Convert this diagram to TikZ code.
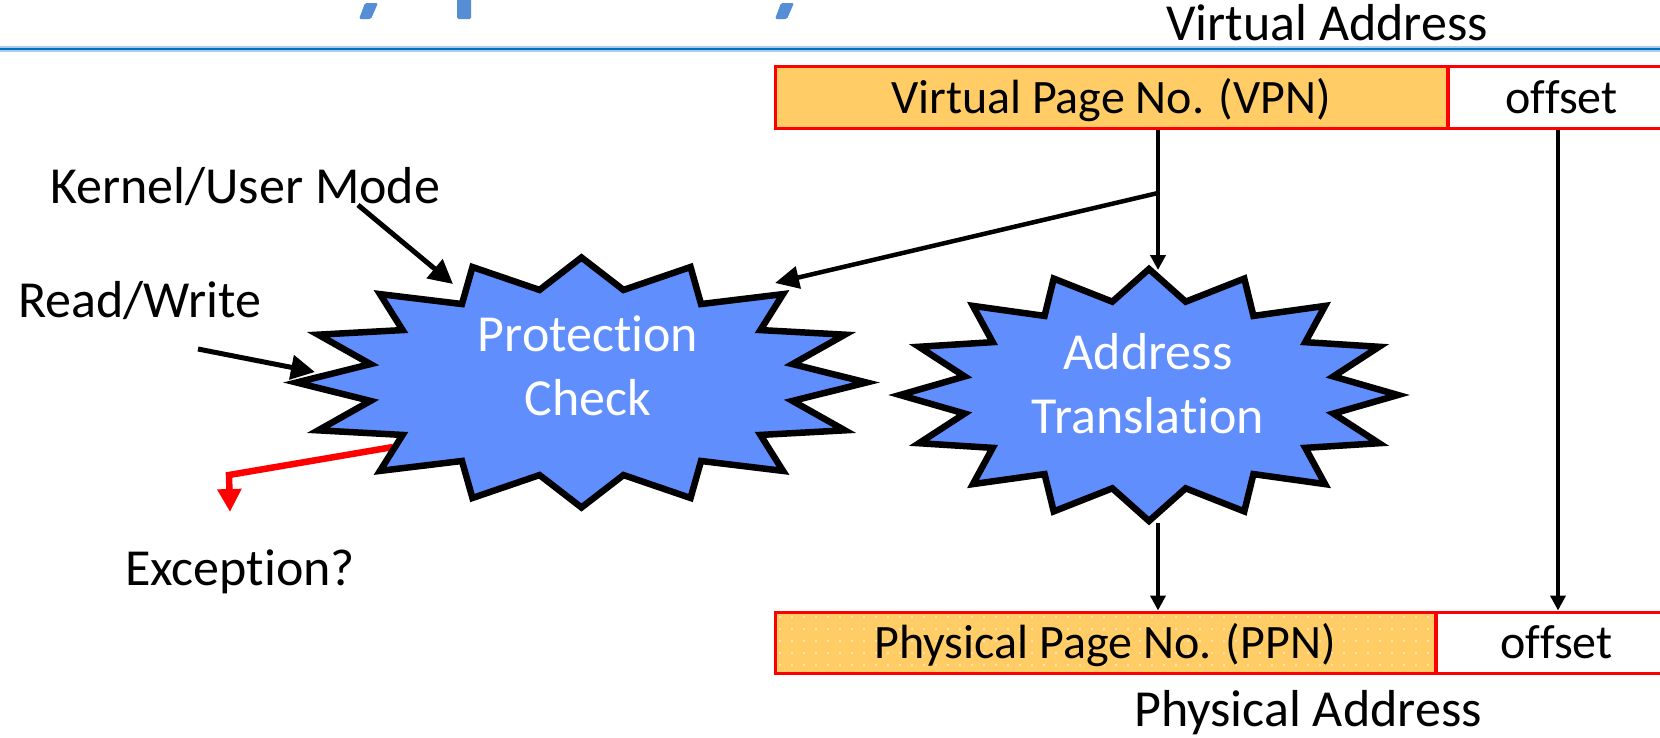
\documentclass[tikz,border=0pt]{standalone}
\usepackage{fontspec}
\setmainfont{Carlito}[Ligatures={NoCommon}]
\usetikzlibrary{arrows.meta,patterns.meta}
\definecolor{starblue}{RGB}{96,142,252}
\definecolor{boxorange}{RGB}{255,204,102}
\definecolor{titleblue}{RGB}{0,112,192}
\definecolor{titlelight}{RGB}{170,205,235}
\definecolor{fragblue}{RGB}{85,142,213}
\definecolor{dotcol}{RGB}{255,236,195}
\begin{document}
\begin{tikzpicture}[x=1pt,y=-1pt,
  lbl/.style={font=\fontsize{52}{64}\selectfont, inner sep=0pt},
  boxlbl/.style={font=\fontsize{48}{58}\selectfont, inner sep=0pt, text height=36pt, text depth=4pt},
  field/.style={boxlbl, draw=red, line width=3pt, minimum height=62pt},
  burst/.style={fill=starblue, draw=black, line width=6.5pt, line join=miter},
  starlbl/.style={lbl, text=white, align=center},
  arr/.style={draw=black, line width=5pt, -{Triangle[length=24pt,width=24pt]}},
  brarr/.style={draw=black, line width=4.5pt, -{Triangle[length=24pt,width=22pt]}},
  varr/.style={draw=black, line width=4pt, -{Triangle[length=15pt,width=15pt]}},
  exarr/.style={draw=red, line width=6.5pt, line join=miter, -{Triangle[length=23pt,width=23pt]}},
]
\useasboundingbox (0,0) rectangle (1660,737);
\clip (0,0) rectangle (1660,737);
\fill[white] (0,0) rectangle (1660,737);

% title rule and cut-off title fragments
\draw[titlelight, line width=6pt] (0,49) -- (1660,49);
\draw[titleblue, line width=2.5pt] (0,49) -- (1660,49);
\fill[fragblue, rounded corners=1.5pt] (365,3) -- (378,3) -- (371,19) -- (359,19) -- cycle;
\fill[fragblue, rounded corners=1.5pt] (457,-2) -- (471,-2) -- (471,19) -- (457,19) -- cycle;
\fill[fragblue, rounded corners=1.5pt] (781,3) -- (794,3) -- (787,19) -- (775,19) -- cycle;

% labels
\node[lbl, anchor=base] (va) at (1327,40) {Virtual Address};
\node[lbl, anchor=base west] (kum) at (50,203) {Kernel/User Mode};
\node[lbl, anchor=base west] (rw) at (18,317) {Read/Write};
\node[lbl, anchor=base west] (exc) at (125,585) {Exception?};
\node[lbl, anchor=base] (pa) at (1308,726) {Physical Address};

% address fields
\node[field, fill=boxorange, minimum width=672pt] (vpn) at (1111,97) {Virtual Page No. (VPN)};
\node[field, fill=white, minimum width=226pt, anchor=west] (voff) at (1447,97) {offset};
\node[field, fill=boxorange, minimum width=660pt, minimum height=61pt,
      postaction={pattern={Dots[distance=12pt,radius=1.1pt]}, pattern color=dotcol}] (ppn) at (1105,642.5) {Physical Page No. (PPN)};
\node[field, fill=white, minimum width=240pt, minimum height=61pt, anchor=west] (poff) at (1435,642.5) {offset};

% connector coordinates
\coordinate (j) at (1158,193);
\coordinate (attop) at (1158,270);
\coordinate (atbot) at (1158,523);
\coordinate (offx) at (1558,300);
\coordinate (pcin) at (775,283);
\coordinate (kmtail) at (358,205);
\coordinate (pckm) at (453,284);
\coordinate (rwtail) at (198,349);
\coordinate (pcrw) at (315,372);
\coordinate (pcex) at (393,447);
\coordinate (exbend) at (229,475);
\coordinate (extip) at (230,512);

% connectors
\draw[varr] (vpn.south -| j) -- (attop);
\draw[brarr] (j) -- (pcin);
\draw[varr] (voff.south -| offx) -- (poff.north -| offx);
\draw[varr] (atbot) -- (ppn.north -| atbot);
\draw[arr] (kmtail) -- (pckm);
\draw[arr] (rwtail) -- (pcrw);
\draw[exarr] (pcex) -- (exbend) -- (extip);

% bursts
\draw[burst] plot[samples=33, domain=0:32, variable=\k]
  ({581.5+285*(1-0.245*mod(round(\k),2))*cos(90+11.25*\k)},
   {382.5-125*(1-0.245*mod(round(\k),2))*sin(90+11.25*\k)}) -- cycle;
\draw[burst] plot[samples=33, domain=0:32, variable=\k]
  ({1149+249*(1-0.245*mod(round(\k),2))*cos(90+11.25*\k)},
   {395-126*(1-0.245*mod(round(\k),2))*sin(90+11.25*\k)}) -- cycle;

\node[starlbl] (pc) at (588,366) {Protection\\Check};
\node[starlbl] (at) at (1148,384) {Address\\Translation};
\end{tikzpicture}
\end{document}
